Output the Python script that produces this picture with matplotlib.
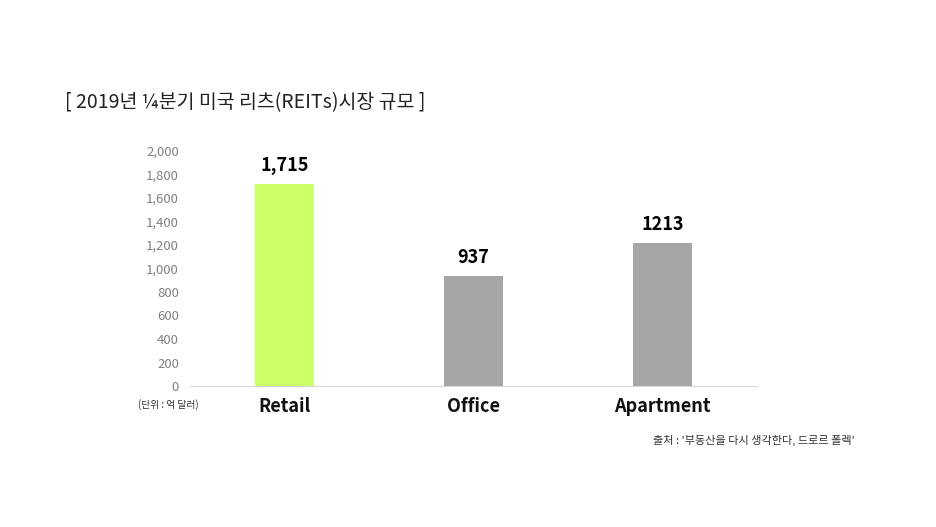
import matplotlib.pyplot as plt

plt.rcParams['font.family'] = ['Noto Sans CJK KR', 'DejaVu Sans']

# data
categories = ["Retail", "Office", "Apartment"]
values = [1715, 937, 1213]
value_labels = ["1,715", "937", "1213"]
bar_colors = ["#CCFF66", "#A6A6A6", "#A6A6A6"]
y_ticks = [0, 200, 400, 600, 800, 1000, 1200, 1400, 1600, 1800, 2000]

fig = plt.figure(figsize=(9.36, 5.27), dpi=100)
ax = fig.add_axes([190 / 936, 1 - 386 / 527, (757 - 190) / 936, (386 - 151) / 527])

x = range(len(categories))
ax.bar(x, values, width=0.315, color=bar_colors, zorder=2)

for i, v in enumerate(values):
    ax.text(i, v + 80, value_labels[i], ha='center', va='bottom',
            fontsize=13, fontweight='bold', color='black')

ax.set_xlim(-0.5, 2.5)
ax.set_ylim(0, 2000)
ax.set_yticks(y_ticks)
ax.set_yticklabels([f"{t:,}" for t in y_ticks])
ax.set_xticks(list(x))
ax.set_xticklabels(categories, fontsize=13, fontweight='bold', color='#111111')

for s in ['top', 'right', 'left']:
    ax.spines[s].set_visible(False)
ax.spines['bottom'].set_color('#D9D9D9')
ax.tick_params(axis='y', length=0, labelsize=9.5, labelcolor='#808080', pad=8)
ax.tick_params(axis='x', length=0, pad=8)

fig.text(65 / 936, 1 - 103 / 527, "[ 2019년 ¼분기 미국 리츠(REITs)시장 규모 ]",
         fontsize=14, fontweight='medium', ha='left', va='center', color='#222222')
fig.text(138 / 936, 1 - 405 / 527, "(단위 : 억 달러)", fontsize=7,
         ha='left', va='center', color='#333333')
fig.text(855 / 936, 1 - 440 / 527, "출처 : '부동산을 다시 생각한다, 드로르 폴렉'",
         fontsize=8, ha='right', va='center', color='#333333')

fig.savefig("out.png", dpi=100)
